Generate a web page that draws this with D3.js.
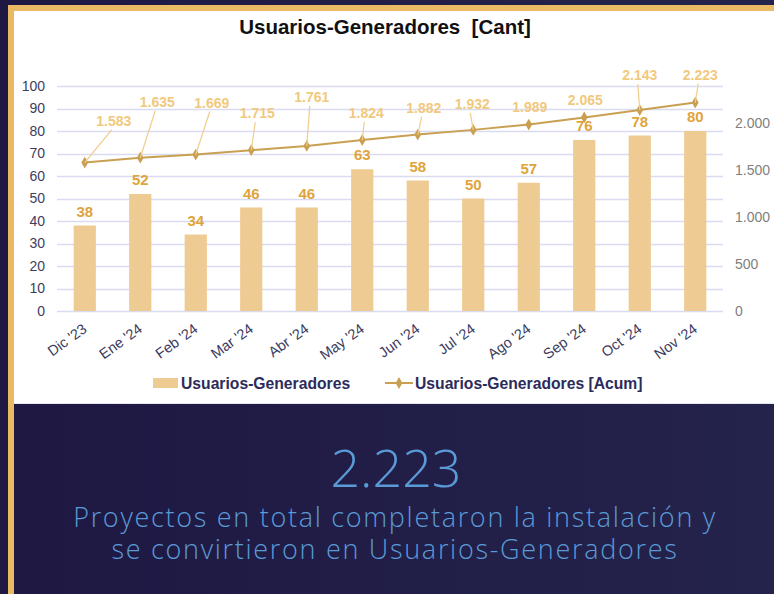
<!DOCTYPE html>
<html>
<head>
<meta charset="utf-8">
<script src="https://cdn.jsdelivr.net/npm/d3@7"></script>
<style>
  html, body { margin: 0; padding: 0; background: #1f1a45; }
  #chart { width: 774px; height: 594px; }
</style>
</head>
<body>
<div id="chart"></div>
<script>
// Chart data
const months = ["Dic '23", "Ene '24", "Feb '24", "Mar '24", "Abr '24", "May '24",
  "Jun '24", "Jul '24", "Ago '24", "Sep '24", "Oct '24", "Nov '24"];
const monthly = [38, 52, 34, 46, 46, 63, 58, 50, 57, 76, 78, 80];
const cumulative = [1583, 1635, 1669, 1715, 1761, 1824, 1882, 1932, 1989, 2065, 2143, 2223];
const leftTicks = [0, 10, 20, 30, 40, 50, 60, 70, 80, 90, 100];
const rightTicks = [0, 500, 1000, 1500, 2000];

// label placement for the cumulative line (dragged labels in the original)
const labelOffsets = [[29, -42], [17, -56], [16, -52], [6, -37], [5, -49], [4, -27],
  [6, -27], [-1, -26], [1, -18], [1, -17], [0, -35], [5, -28]];

const fmt = d3.formatLocale({ decimal: ",", thousands: ".", grouping: [3], currency: ["$", ""] }).format(",d");
const FONT = "Liberation Sans, Arial, sans-serif";

const W = 774, H = 594;
const svg = d3.select("#chart").append("svg")
  .attr("width", W).attr("height", H);

// background
const defs = svg.append("defs");
const grad = defs.append("linearGradient").attr("id", "bg").attr("x1", 0).attr("x2", 1);
grad.append("stop").attr("offset", 0).attr("stop-color", "#1e1843");
grad.append("stop").attr("offset", 1).attr("stop-color", "#24234b");
svg.append("rect").attr("width", W).attr("height", H).attr("fill", "url(#bg)");

// gold frame + white panel
svg.append("rect").attr("x", 8).attr("y", 5).attr("width", W - 8).attr("height", 6).attr("fill", "#e9b964");
svg.append("rect").attr("x", 8).attr("y", 5).attr("width", 6).attr("height", H - 5).attr("fill", "#e9b964");
svg.append("rect").attr("x", 14).attr("y", 11).attr("width", W - 14).attr("height", 392).attr("fill", "#ffffff");
svg.append("line").attr("x1", 14).attr("x2", W).attr("y1", 403.5).attr("y2", 403.5)
  .attr("stroke", "#e6e6ee").attr("stroke-width", 1);

// title
svg.append("text")
  .attr("x", 385).attr("y", 34)
  .attr("text-anchor", "middle")
  .attr("font-family", FONT)
  .attr("font-weight", "bold").attr("font-size", 20.5)
  .attr("fill", "#111")
  .attr("xml:space", "preserve")
  .text("Usuarios-Generadores  [Cant]");

// scales
const x = d3.scaleBand().domain(months).range([57, 723]).paddingInner(0.6).paddingOuter(0.3);
const yL = d3.scaleLinear().domain([0, 100]).range([311, 86]);
const yR = d3.scaleLinear().domain([0, 2400]).range([311, 86]);
const cx = d => x(d) + x.bandwidth() / 2;

// gridlines
svg.append("g").selectAll("line")
  .data(leftTicks)
  .join("line")
  .attr("x1", 57).attr("x2", 723)
  .attr("y1", d => Math.round(yL(d)) + 0.5).attr("y2", d => Math.round(yL(d)) + 0.5)
  .attr("stroke", "#d9dcf1").attr("stroke-width", 1.3);

// left axis
const axL = svg.append("g")
  .attr("transform", "translate(57,0)")
  .call(d3.axisLeft(yL).tickValues(leftTicks).tickSize(0).tickPadding(12));
axL.select(".domain").remove();
axL.selectAll("text")
  .attr("font-family", FONT)
  .attr("font-size", 14).attr("fill", "#3d3d5e");

// right axis
const axR = svg.append("g")
  .attr("transform", "translate(723,0)")
  .call(d3.axisRight(yR).tickValues(rightTicks).tickSize(0).tickPadding(12).tickFormat(fmt));
axR.select(".domain").remove();
axR.selectAll("text")
  .attr("font-family", FONT)
  .attr("font-size", 14).attr("fill", "#7f7f7f");

// x axis labels
const axX = svg.append("g")
  .attr("transform", "translate(0,311)")
  .call(d3.axisBottom(x).tickSize(0).tickPadding(0));
axX.select(".domain").remove();
axX.selectAll("text")
  .attr("font-family", FONT)
  .attr("font-size", 14.5).attr("fill", "#3b3b5e")
  .attr("text-anchor", "end")
  .attr("dy", 0)
  .attr("transform", "translate(3,20) rotate(-36)");

// bars
svg.append("g").selectAll("rect")
  .data(monthly)
  .join("rect")
  .attr("x", (d, i) => x(months[i]))
  .attr("y", d => yL(d))
  .attr("width", x.bandwidth())
  .attr("height", d => yL(0) - yL(d))
  .attr("fill", "#eecb92");

// bar labels
svg.append("g").selectAll("text")
  .data(monthly)
  .join("text")
  .attr("x", (d, i) => cx(months[i]))
  .attr("y", d => yL(d) - 9)
  .attr("text-anchor", "middle")
  .attr("font-family", FONT)
  .attr("font-weight", "bold").attr("font-size", 15)
  .attr("fill", "#dfa43c")
  .text(d => d);

// cumulative line
const line = d3.line()
  .x((d, i) => cx(months[i]))
  .y(d => yR(d));
svg.append("path")
  .datum(cumulative)
  .attr("d", line)
  .attr("fill", "none")
  .attr("stroke", "#c9a052").attr("stroke-width", 2);

svg.append("g").selectAll("path")
  .data(cumulative)
  .join("path")
  .attr("d", d3.symbol(d3.symbolDiamond, 40))
  .attr("transform", (d, i) => `translate(${cx(months[i])},${yR(d)})`)
  .attr("fill", "#c9a052");

// leader lines and labels
const lbl = svg.append("g");
cumulative.forEach((d, i) => {
  const px = cx(months[i]), py = yR(d);
  const [dx, dy] = labelOffsets[i];
  const lx = px + dx, ly = py + dy;
  if (dy < -20) {
    lbl.append("line")
      .attr("x1", lx - 2).attr("y1", ly + 9)
      .attr("x2", px).attr("y2", py)
      .attr("stroke", "#f0cd8c").attr("stroke-width", 1.2);
  }
  lbl.append("text")
    .attr("x", lx).attr("y", ly + 5)
    .attr("text-anchor", "middle")
    .attr("font-family", FONT)
    .attr("font-weight", "bold").attr("font-size", 14)
    .attr("fill", "#f1c97e")
    .text(fmt(d));
});

// legend
const leg = svg.append("g").attr("font-family", FONT)
  .attr("font-weight", "bold").attr("font-size", 15.7).attr("fill", "#2c2b5b");
leg.append("rect").attr("x", 153).attr("y", 378).attr("width", 25).attr("height", 10).attr("fill", "#eecb92");
leg.append("text").attr("x", 181).attr("y", 389).text("Usuarios-Generadores");
leg.append("line").attr("x1", 385).attr("x2", 413).attr("y1", 383).attr("y2", 383)
  .attr("stroke", "#c9a052").attr("stroke-width", 2);
leg.append("path").attr("d", d3.symbol(d3.symbolDiamond, 40))
  .attr("transform", "translate(399,383)").attr("fill", "#c9a052");
leg.append("text").attr("x", 415).attr("y", 389).text("Usuarios-Generadores [Acum]");

// summary block
const total = cumulative[cumulative.length - 1];
svg.append("text")
  .attr("x", 396).attr("y", 487)
  .attr("text-anchor", "middle")
  .attr("font-family", "Open Sans, sans-serif")
  .attr("font-weight", 300).attr("font-size", 52)
  .attr("fill", "#5a9ad6")
  .text(fmt(total));
const sub = svg.append("text")
  .attr("text-anchor", "middle")
  .attr("font-family", "Open Sans, sans-serif")
  .attr("font-weight", 300).attr("font-size", 27)
  .attr("letter-spacing", 1.7)
  .attr("fill", "#5a9ad6");
sub.append("tspan").attr("x", 395).attr("y", 527)
  .text("Proyectos en total completaron la instalación y");
sub.append("tspan").attr("x", 395).attr("y", 559)
  .text("se convirtieron en Usuarios-Generadores");
</script>
</body>
</html>
